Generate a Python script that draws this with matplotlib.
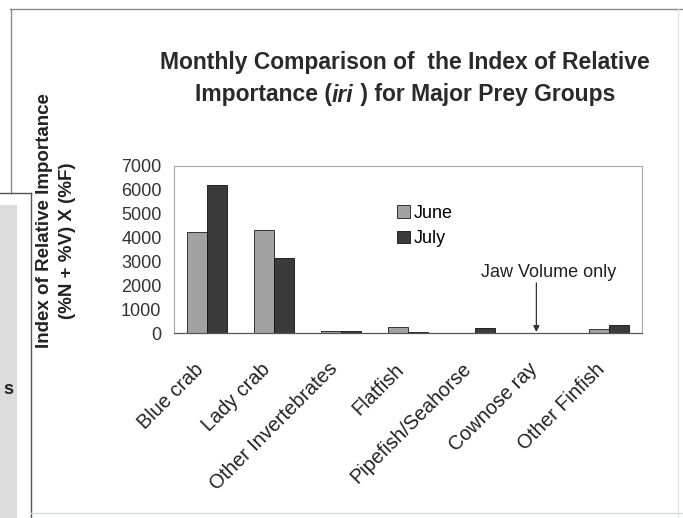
import matplotlib
matplotlib.use("Agg")
import matplotlib.pyplot as plt
import numpy as np
from matplotlib.lines import Line2D
from matplotlib.patches import Rectangle
from matplotlib.offsetbox import TextArea, HPacker, AnnotationBbox

plt.rcParams['font.family'] = ['Liberation Sans', 'DejaVu Sans']

categories = ["Blue crab", "Lady crab", "Other Invertebrates", "Flatfish",
              "Pipefish/Seahorse", "Cownose ray", "Other Finfish"]
june = [4250, 4300, 100, 260, 10, 20, 150]
july = [6200, 3150, 100, 60, 230, 20, 350]
series_names = ["June", "July"]
y_ticks = [0, 1000, 2000, 3000, 4000, 5000, 6000, 7000]

W, H = 683, 518
fig = plt.figure(figsize=(W / 100, H / 100), dpi=100)
fig.patch.set_facecolor("white")

def fx(px):
    return px / W

def fy(py):
    return 1 - py / H

# page frame lines around the chart
frame_color = "#8a8a8a"
fig.add_artist(Line2D([fx(10), fx(683)], [fy(9), fy(9)], color=frame_color, lw=1.0))
fig.add_artist(Line2D([fx(11), fx(11)], [fy(9), fy(193)], color=frame_color, lw=1.0))
fig.add_artist(Rectangle((0, 0), fx(17), fy(205), facecolor="#dcdcdc",
                         edgecolor="none", transform=fig.transFigure))
fig.add_artist(Line2D([0, fx(31)], [fy(193), fy(193)], color="#555555", lw=1.0))
fig.add_artist(Line2D([fx(31), fx(31)], [fy(193), 0], color="#555555", lw=1.0))
fig.add_artist(Line2D([fx(678), fx(678)], [fy(9), 0], color="#e2e2e2", lw=1.0))
fig.add_artist(Line2D([fx(31), fx(683)], [fy(513), fy(513)], color="#d6dee2", lw=1.0))
fig.text(fx(8), fy(389), "s", fontsize=13, fontweight="bold", ha="center",
         va="center", color="#222222")

ax = fig.add_axes([fx(174), fy(333), fx(642) - fx(174), fy(166) - fy(333)])

x = np.arange(len(categories))
bw = 0.3
ax.bar(x - bw / 2, june, width=bw, color="#a2a2a2", edgecolor="#1a1a1a",
       linewidth=0.6, label=series_names[0])
ax.bar(x + bw / 2, july, width=bw, color="#3a3a3a", edgecolor="#111111",
       linewidth=0.6, label=series_names[1])

ax.set_xlim(-0.5, len(categories) - 0.5)
ax.set_ylim(0, 7000)
ax.set_yticks(y_ticks)
ax.set_yticklabels([str(v) for v in y_ticks], fontsize=13, color="#333333")
ax.tick_params(axis="y", length=0, pad=9)
ax.set_xticks(x)
ax.set_xticklabels(categories, rotation=45, ha="right", va="top",
                   fontsize=14.3, color="#222222")
ax.tick_params(axis="x", length=0, pad=19)

for side in ["top", "right", "left"]:
    ax.spines[side].set_color("#a8a8a8")
    ax.spines[side].set_linewidth(0.8)
ax.spines["bottom"].set_color("#555555")
ax.spines["bottom"].set_linewidth(0.9)

leg = ax.legend(loc="upper left", bbox_to_anchor=(0.458, 0.82), frameon=False,
                fontsize=13, handlelength=0.7, handleheight=0.7,
                handletextpad=0.2, labelspacing=0.45, borderpad=0)

# annotation pointing at the cownose ray bars
ax.annotate("", xy=(5 - 0.08, 40), xytext=(5 - 0.08, 2100),
            arrowprops=dict(arrowstyle="-|>", color="#333333", lw=0.9,
                            mutation_scale=9, shrinkA=0, shrinkB=0))
ax.text(5.1, 2550, "Jaw Volume only", ha="center", va="center",
        fontsize=13, color="#222222")

# y axis title (two lines)
fig.text(fx(45), fy(221), "Index of Relative Importance", rotation=90,
         fontsize=13.5, fontweight="bold", ha="center", va="center",
         color="#222222")
fig.text(fx(68), fy(241), "(%N + %V) X (%F)", rotation=90,
         fontsize=13.5, fontweight="bold", ha="center", va="center",
         color="#222222")

# chart title
title_kw = dict(fontsize=16.5, fontweight="bold", color="#2a2a2a")
fig.text(fx(405), fy(62), "Monthly Comparison of  the Index of Relative",
         ha="center", va="center", **title_kw)
parts = [TextArea("Importance (", textprops=title_kw),
         TextArea("iri", textprops=dict(title_kw, fontstyle="italic")),
         TextArea(" ) for Major Prey Groups", textprops=title_kw)]
line2 = HPacker(children=parts, align="baseline", pad=0, sep=0)
ab = AnnotationBbox(line2, (fx(405), fy(95)), xycoords="figure fraction",
                    frameon=False, box_alignment=(0.5, 0.5), pad=0)
fig.add_artist(ab)

fig.savefig("out.png", dpi=100)
